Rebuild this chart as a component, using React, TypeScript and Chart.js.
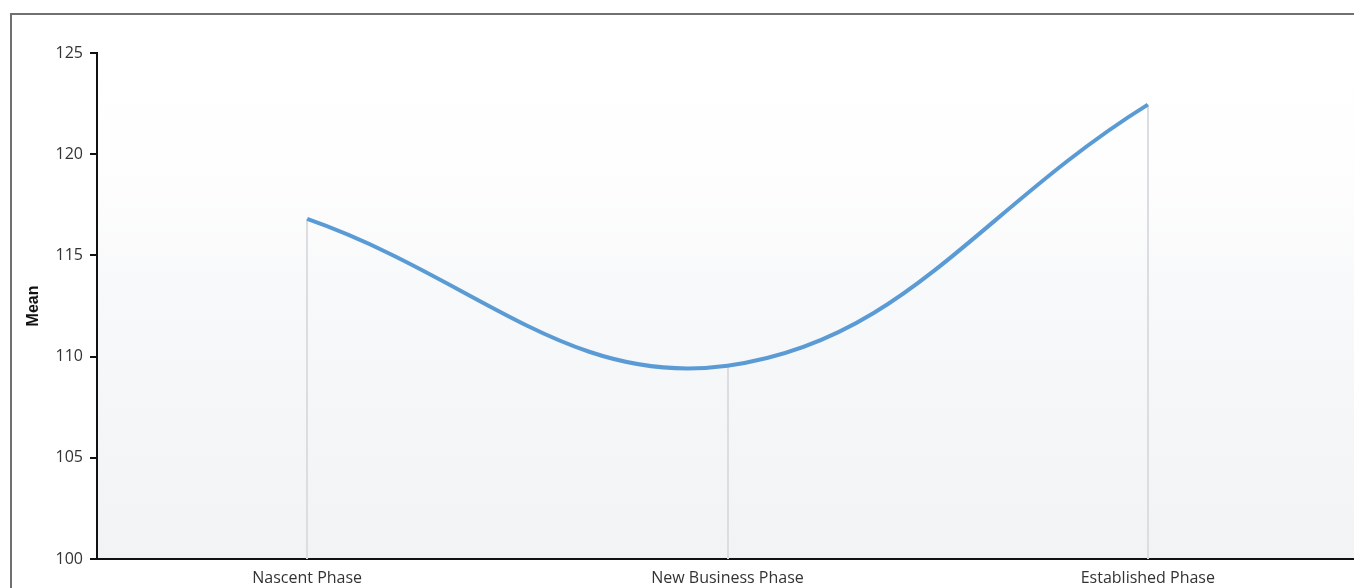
import React, { useEffect, useRef } from "react";
import { Chart, registerables } from "chart.js";

Chart.register(...registerables);

const categories = ["Nascent Phase", "New Business Phase", "Established Phase"];
const meanValues = [116.8, 109.55, 122.45];
const yMin = 100;
const yMax = 125;
const yStep = 5;

const dropLines = {
  id: "dropLines",
  beforeDatasetsDraw(chart: any) {
    const { ctx, chartArea } = chart;
    const meta = chart.getDatasetMeta(0);
    ctx.save();
    ctx.strokeStyle = "#dcdde0";
    ctx.lineWidth = 2;
    meta.data.forEach((pt: any) => {
      ctx.beginPath();
      ctx.moveTo(Math.round(pt.x), pt.y);
      ctx.lineTo(Math.round(pt.x), chartArea.bottom);
      ctx.stroke();
    });
    ctx.restore();
  },
};

const bgGradient = {
  id: "bgGradient",
  beforeDraw(chart: any) {
    const { ctx, chartArea } = chart;
    if (!chartArea) return;
    const g = ctx.createLinearGradient(0, chartArea.top, 0, chartArea.bottom);
    g.addColorStop(0, "#ffffff");
    g.addColorStop(0.28, "#fdfdfd");
    g.addColorStop(0.45, "#f8f9fa");
    g.addColorStop(1, "#f2f3f5");
    ctx.save();
    ctx.fillStyle = g;
    ctx.fillRect(chartArea.left, chartArea.top, chartArea.right - chartArea.left, chartArea.bottom - chartArea.top);
    ctx.restore();
  },
};

export default function App() {
  const ref = useRef<HTMLCanvasElement | null>(null);
  useEffect(() => {
    if (!ref.current) return;
    const chart = new Chart(ref.current, {
      type: "line",
      data: {
        labels: categories,
        datasets: [
          {
            label: "Mean",
            data: meanValues,
            borderColor: "#5b9bd5",
            borderWidth: 4,
            tension: 0.4,
            pointRadius: 0,
            fill: false,
          },
        ],
      },
      options: {
        animation: false,
        responsive: false,
        maintainAspectRatio: false,
        layout: { padding: { top: 38, left: 0, right: 0, bottom: 0 } },
        plugins: { legend: { display: false }, tooltip: { enabled: false } },
        scales: {
          x: {
            offset: true,
            grid: { display: false, drawTicks: false },
            border: { display: true, color: "#111111", width: 2 },
            ticks: {
              color: "#333333",
              font: { family: "Open Sans", size: 16 },
              padding: 10,
              maxRotation: 0,
            },
            afterFit: (s: any) => {
              s.height = 36;
            },
          },
          y: {
            min: yMin,
            max: yMax,
            grid: {
              drawOnChartArea: false,
              drawTicks: true,
              tickLength: 7,
              color: "#111111",
              lineWidth: 2,
            },
            border: { display: true, color: "#111111", width: 2 },
            ticks: {
              stepSize: yStep,
              color: "#333333",
              font: { family: "Open Sans", size: 16 },
              padding: 7,
            },
            title: {
              display: true,
              text: "Mean",
              color: "#111111",
              font: { family: "Liberation Sans", size: 16, weight: "bold" },
              padding: { top: 12, bottom: 0 },
            },
            afterFit: (s: any) => {
              s.width = 85;
            },
          },
        },
      },
      plugins: [bgGradient, dropLines],
    });
    return () => chart.destroy();
  }, []);

  return (
    <div
      style={{
        position: "relative",
        marginLeft: 2,
        marginTop: 5,
        width: 1420,
        height: 640,
        border: "2px solid #707070",
        boxSizing: "border-box",
        background: "#ffffff",
      }}
    >
      <canvas
        ref={ref}
        width={1346}
        height={580}
        style={{ position: "absolute", left: 0, top: 0, width: 1346, height: 580 }}
      />
    </div>
  );
}
